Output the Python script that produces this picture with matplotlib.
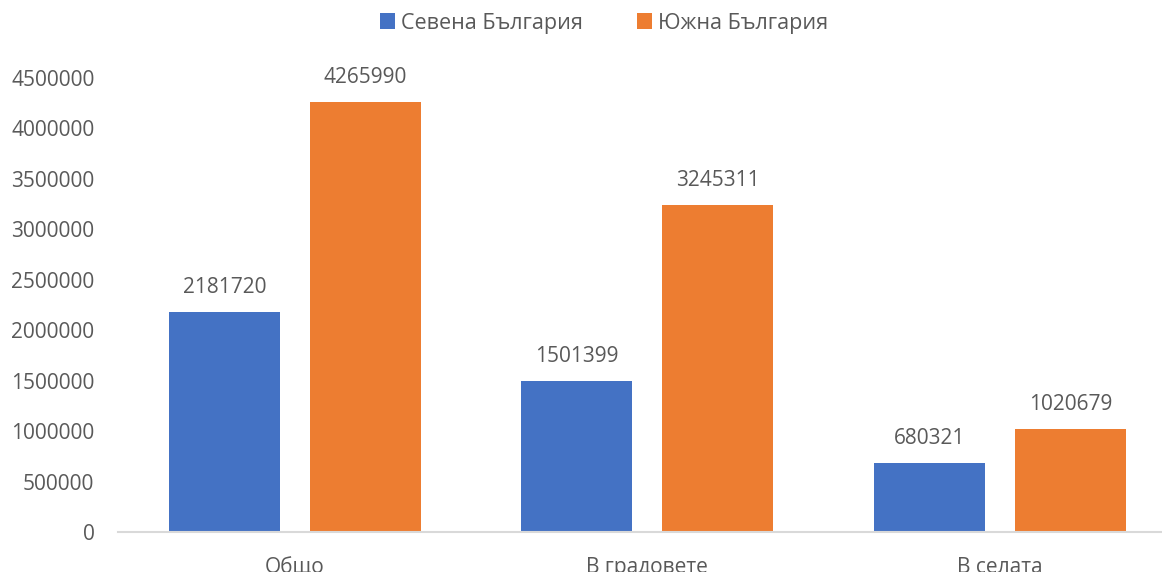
import matplotlib
matplotlib.use("Agg")
import matplotlib.pyplot as plt
import numpy as np

categories = ["Общо", "В градовете", "В селата"]
series_names = ["Севена България", "Южна България"]
north = [2181720, 1501399, 680321]
south = [4265990, 3245311, 1020679]
yticks = [0, 500000, 1000000, 1500000, 2000000, 2500000, 3000000, 3500000, 4000000, 4500000]

colors = ["#4472C4", "#ED7D31"]
text_color = "#595959"
plt.rcParams['font.family'] = ['Open Sans', 'DejaVu Sans']

fig = plt.figure(figsize=(11.62, 5.72), dpi=100)
ax = fig.add_axes([118/1162, 40/572, 1 - 118/1162, (532-78)/572])

x = np.arange(len(categories))
w = 0.315
off = 0.2
for vals, c, name, d in [(north, colors[0], series_names[0], -off), (south, colors[1], series_names[1], off)]:
    ax.bar(x + d, vals, width=w, color=c, label=name)
    for xi, v in zip(x + d, vals):
        ax.annotate(f"{v}", (xi, v), xytext=(0, 10), textcoords="offset points",
                    ha="center", va="bottom", fontsize=15, color=text_color)

ax.set_xlim(-0.502, 2.46)
ax.set_ylim(0, 4500000)
ax.set_yticks(yticks)
ax.set_yticklabels([str(t) for t in yticks])
ax.set_xticks(x)
ax.set_xticklabels(categories)
ax.tick_params(axis="both", length=0, labelsize=15, colors=text_color)
ax.tick_params(axis="x", pad=18)
ax.tick_params(axis="y", pad=17)
for s in ["top", "right", "left"]:
    ax.spines[s].set_visible(False)
ax.spines["bottom"].set_color("#D9D9D9")
ax.spines["bottom"].set_linewidth(1.5)

fig.legend(loc="center", bbox_to_anchor=(604/1162, 1 - 23/572), ncol=2, frameon=False,
           fontsize=15.5, handlelength=0.7, handleheight=0.7, handletextpad=0.3,
           columnspacing=2.5, labelcolor=text_color)

fig.savefig("out.png", dpi=100)
